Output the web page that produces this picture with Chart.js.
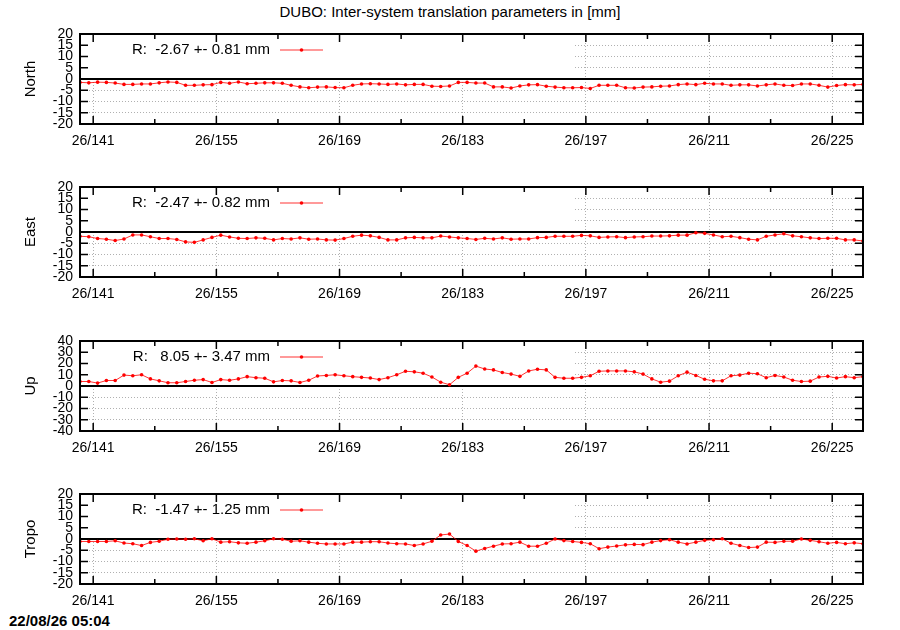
<!DOCTYPE html>
<html>
<head>
<meta charset="utf-8">
<title>DUBO inter-system translation</title>
<script src="https://cdn.jsdelivr.net/npm/chart.js@4.4.1/dist/chart.umd.min.js"></script>
<style>
  body { margin: 0; background: #fff; width: 900px; height: 630px; position: relative; overflow: hidden;
         font-family: "Liberation Sans", Arial, sans-serif; color: #000; }
  #title { position: absolute; left: 0; top: 4px; width: 900px; text-align: center; font-size: 15px; line-height: 16px; }
  #stamp { position: absolute; left: 9px; top: 613px; font-size: 15px; font-weight: bold; line-height: 16px; }
  canvas { position: absolute; left: 0; }
</style>
</head>
<body>
<div id="title">DUBO: Inter-system translation parameters in [mm]</div>
<canvas id="pNorth" width="900" height="130" style="top:20px"></canvas>
<canvas id="pEast" width="900" height="130" style="top:173px"></canvas>
<canvas id="pUp" width="900" height="130" style="top:327px"></canvas>
<canvas id="pTropo" width="900" height="130" style="top:480px"></canvas>
<div id="stamp">22/08/26 05:04</div>
<script>
// day of year of each daily solution (plotted at noon)
const days = [139,140,141,142,143,144,145,146,147,148,149,150,151,152,153,154,155,156,157,158,
  159,160,161,162,163,164,165,166,167,168,169,170,171,172,173,174,175,176,177,178,
  179,180,181,182,183,184,185,186,187,188,189,190,191,192,193,194,195,196,197,198,
  199,200,201,202,203,204,205,206,207,208,209,210,211,212,213,214,215,216,217,218,
  219,220,221,222,223,224,225,226,227,228];

const majorDays = [141, 155, 169, 183, 197, 211, 225];
const tickLabels = ['26/141', '26/155', '26/169', '26/183', '26/197', '26/211', '26/225'];
const minorDays = [148, 162, 176, 190, 204, 218];

const northVals = [-1.5,-1.7,-1.4,-1.5,-1.8,-2.4,-2.4,-2.2,-2.2,-1.7,-1.3,-1.5,-2.8,-2.8,-2.6,
  -2.5,-1.5,-1.9,-1.3,-2.1,-1.9,-1.7,-1.7,-1.9,-2.8,-3.5,-3.9,-3.6,-3.5,-3.8,
  -3.9,-2.8,-2.2,-2.1,-2.2,-2.4,-2.2,-2.6,-2.4,-2.4,-3.2,-3.3,-3.1,-1.5,-1.5,
  -1.8,-1.8,-3.5,-3.5,-4.0,-3.1,-2.6,-2.5,-3.2,-3.6,-3.9,-3.9,-3.8,-4.2,-2.8,
  -2.8,-2.8,-3.9,-4.0,-3.6,-3.5,-3.2,-3.1,-2.5,-2.2,-2.5,-1.9,-2.2,-2.2,-2.8,
  -2.6,-2.6,-3.1,-2.6,-2.2,-2.8,-2.9,-2.2,-2.2,-2.8,-3.6,-2.9,-2.5,-2.6,-2.4];

const eastVals = [-1.9,-2.1,-2.9,-3.2,-3.8,-3.1,-1.3,-1.3,-2.1,-2.9,-2.9,-3.3,-4.4,-4.6,-3.5,
  -2.4,-1.4,-2.2,-2.8,-2.9,-2.6,-2.8,-3.5,-2.9,-3.1,-2.6,-3.2,-3.1,-3.5,-3.6,
  -2.9,-1.9,-1.4,-1.7,-2.4,-3.5,-3.5,-2.6,-2.4,-2.6,-2.6,-1.8,-2.2,-2.6,-2.9,
  -3.3,-2.8,-3.1,-2.6,-3.2,-3.1,-3.1,-2.5,-2.4,-1.9,-1.9,-1.9,-1.5,-1.7,-2.4,
  -2.2,-2.1,-2.5,-2.2,-2.1,-1.8,-1.8,-1.7,-1.4,-1.4,-0.3,-0.6,-1.3,-2.1,-1.9,
  -2.5,-3.2,-3.5,-1.9,-1.3,-0.8,-1.7,-2.1,-2.6,-2.9,-2.8,-2.8,-3.5,-3.5,-4.0];

const upVals = [4.0,4.0,2.6,4.9,4.9,9.7,9.1,10.0,6.3,4.6,2.9,2.9,4.0,5.1,5.7,
  3.1,5.7,5.1,6.3,8.3,7.4,6.9,3.7,4.9,4.6,3.1,5.1,8.9,9.4,10.0,
  9.1,8.3,7.7,7.1,5.7,7.4,10.0,13.1,12.6,11.4,8.0,3.4,1.1,7.7,11.4,
  17.7,15.1,14.3,12.0,10.6,8.6,13.4,14.9,14.3,7.7,6.9,6.9,7.7,9.1,13.1,
  13.4,13.4,13.4,12.6,10.6,6.3,3.4,4.3,9.1,12.3,9.4,6.0,4.6,4.6,9.1,
  9.7,11.4,10.9,7.4,9.4,8.0,5.1,4.0,4.3,8.0,8.6,7.1,8.3,7.4,8.3];

const tropoVals = [-1.1,-1.1,-1.1,-1.1,-0.8,-1.8,-2.1,-2.9,-1.5,-1.0,-0.1,0.0,-0.1,0.1,-0.8,
  0.1,-1.4,-1.2,-1.7,-1.9,-1.4,-0.8,0.1,-0.1,-1.0,-0.8,-1.4,-1.9,-2.2,-2.2,
  -2.2,-1.4,-1.4,-1.2,-1.2,-1.8,-2.1,-2.2,-2.9,-2.2,-1.0,1.8,2.2,-1.1,-2.9,
  -5.4,-4.2,-3.2,-2.2,-2.1,-1.4,-3.2,-3.2,-1.9,0.0,-0.7,-1.1,-1.5,-2.1,-4.3,
  -3.6,-3.1,-2.6,-2.4,-2.5,-1.4,-0.7,-0.3,-1.4,-2.2,-1.4,-0.6,-0.3,0.1,-1.9,
  -2.9,-3.8,-3.6,-1.4,-1.5,-1.0,-1.0,0.0,-0.6,-1.2,-1.9,-1.5,-2.1,-1.7,-2.1];

const keyLabels = ['R:  -2.67 +- 0.81 mm', 'R:  -2.47 +- 0.82 mm', 'R:   8.05 +- 3.47 mm', 'R:  -1.47 +- 1.25 mm'];

const FONT = '"Liberation Sans", Arial, sans-serif';
const RED = '#ff0000';

// gnuplot-like frame: opaque key area, zero axis, box border, inward ticks, key sample
const gnuFrame = {
  id: 'gnuFrame',
  beforeDatasetsDraw(chart) {
    const { ctx, chartArea: a, scales: { y } } = chart;
    const y0 = y.getPixelForValue(0);
    ctx.save();
    ctx.fillStyle = '#fff';
    ctx.fillRect(a.left + 1, a.top + 1, 493, y0 - a.top - 2);
    ctx.strokeStyle = '#000';
    ctx.lineWidth = 2;
    ctx.beginPath();
    ctx.moveTo(a.left, y0);
    ctx.lineTo(a.right, y0);
    ctx.stroke();
    ctx.restore();
  },
  afterDatasetsDraw(chart) {
    const { ctx, chartArea: a, scales: { x, y } } = chart;
    ctx.save();
    ctx.strokeStyle = '#000';
    ctx.lineWidth = 1.5;
    ctx.beginPath();
    y.ticks.forEach(t => {
      if (t.value === y.min || t.value === y.max) return;
      const py = y.getPixelForValue(t.value);
      ctx.moveTo(a.left, py); ctx.lineTo(a.left + 8, py);
      ctx.moveTo(a.right, py); ctx.lineTo(a.right - 8, py);
    });
    majorDays.forEach(d => {
      const px = x.getPixelForValue(d);
      ctx.moveTo(px, a.bottom); ctx.lineTo(px, a.bottom - 8);
      ctx.moveTo(px, a.top); ctx.lineTo(px, a.top + 8);
    });
    minorDays.forEach(d => {
      const px = x.getPixelForValue(d);
      ctx.moveTo(px, a.bottom); ctx.lineTo(px, a.bottom - 5);
      ctx.moveTo(px, a.top); ctx.lineTo(px, a.top + 5);
    });
    ctx.stroke();
    ctx.lineWidth = 2;
    ctx.strokeRect(a.left, a.top, a.right - a.left, a.bottom - a.top);

    // key
    const ds = chart.data.datasets[0];
    const ky = a.top + 16;
    ctx.font = '15px ' + FONT;
    ctx.fillStyle = '#000';
    ctx.textAlign = 'right';
    ctx.textBaseline = 'middle';
    ctx.fillText(ds.label, a.left + 190, ky);
    ctx.strokeStyle = ds.borderColor;
    ctx.lineWidth = 1;
    ctx.beginPath();
    ctx.moveTo(a.left + 200, ky); ctx.lineTo(a.left + 243, ky);
    ctx.stroke();
    ctx.fillStyle = RED;
    ctx.beginPath();
    ctx.arc(a.left + 221.5, ky, 1.8, 0, Math.PI * 2);
    ctx.fill();
    ctx.restore();
  }
};

function makePanel(canvasId, name, vals, lim, step, key) {
  const pts = days.map((d, i) => ({ x: d + 0.5, y: vals[i] }));
  return new Chart(document.getElementById(canvasId), {
    type: 'line',
    data: {
      datasets: [{
        label: key,
        data: pts,
        borderColor: 'rgba(255,0,0,0.8)',
        borderWidth: 1,
        pointRadius: 1.8,
        pointBackgroundColor: RED,
        pointBorderWidth: 0,
        tension: 0
      }]
    },
    options: {
      responsive: false,
      animation: false,
      layout: { padding: { left: 0, right: 37, top: 10, bottom: 0 } },
      plugins: { legend: { display: false }, tooltip: { enabled: false } },
      scales: {
        x: {
          type: 'linear',
          min: 139.5,
          max: 228.5,
          afterBuildTicks: s => { s.ticks = majorDays.map(v => ({ value: v })); },
          afterFit: s => { s.height = 26; },
          ticks: {
            callback: v => tickLabels[majorDays.indexOf(v)],
            color: '#000',
            font: { size: 14, family: FONT },
            padding: 9,
            maxRotation: 0,
            autoSkip: false
          },
          grid: { color: '#b0b0b0', lineWidth: 1, drawTicks: false },
          border: { display: false, dash: [1, 2] }
        },
        y: {
          min: -lim,
          max: lim,
          afterFit: s => { s.width = 80; },
          ticks: {
            stepSize: step,
            autoSkip: false,
            color: '#000',
            font: { size: 14, family: FONT, lineHeight: 1 },
            padding: 7
          },
          grid: {
            drawTicks: false,
            lineWidth: 1,
            color: c => (c.tick.value === 0 || Math.abs(c.tick.value) === lim) ? 'rgba(0,0,0,0)' : '#b0b0b0'
          },
          border: { display: false, dash: [1, 2] },
          title: {
            display: true,
            text: name,
            color: '#000',
            font: { size: 15, family: FONT },
            padding: { top: 22, bottom: 0 }
          }
        }
      }
    },
    plugins: [gnuFrame]
  });
}

makePanel('pNorth', 'North', northVals, 20, 5, keyLabels[0]);
makePanel('pEast', 'East', eastVals, 20, 5, keyLabels[1]);
makePanel('pUp', 'Up', upVals, 40, 10, keyLabels[2]);
makePanel('pTropo', 'Tropo', tropoVals, 20, 5, keyLabels[3]);
</script>
</body>
</html>
